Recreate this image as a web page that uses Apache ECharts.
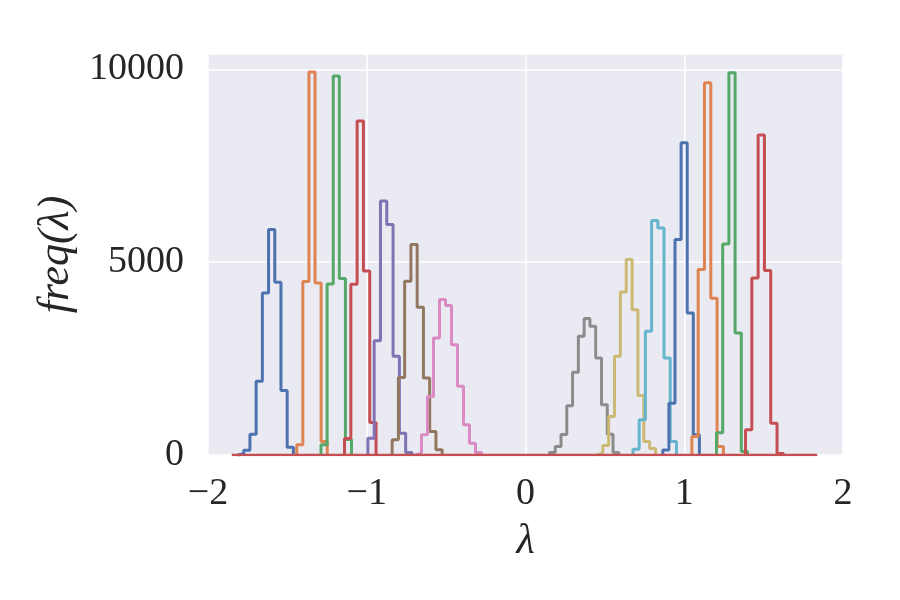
<!DOCTYPE html>
<html>
<head>
<meta charset="utf-8">
<script src="https://cdn.jsdelivr.net/npm/echarts@6/dist/echarts.min.js"></script>
<style>
  html, body { margin: 0; background: #fff; }
  #chart { width: 900px; height: 600px; }
</style>
</head>
<body>
<div id="chart"></div>
<script>
// seaborn "deep" palette, cycled
const palette = ['#4C72B0', '#DD8452', '#55A868', '#C44E52', '#8172B3',
                 '#937860', '#DA8BC3', '#8C8C8C', '#CCB974', '#64B5CD'];

// left edge of first bin and bin width (lambda units), one per histogram
const binStart = [-1.814, -1.441, -1.288, -1.140, -0.993, -0.840, -0.693,
                  0.151, 0.450, 0.677, 0.865, 1.048, 1.203, 1.386];
const binWidth = [0.0391, 0.0384, 0.0384, 0.0397, 0.0397, 0.0394, 0.0378,
                  0.0364, 0.0369, 0.0391, 0.0384, 0.0397, 0.0391, 0.0397];

// bin counts
const h1  = [30, 120, 540, 1910, 4200, 5850, 4480, 1675, 200];
const h2  = [265, 4500, 9935, 4460, 350];
const h3  = [265, 4435, 9830, 4575, 400];
const h4  = [430, 4430, 8660, 4770, 845];
const h5  = [435, 2965, 6585, 5980, 2560, 565, 65];
const h6  = [395, 2010, 4505, 5460, 3830, 1995, 610, 135];
const h7  = [50, 525, 1520, 3035, 4030, 3880, 2860, 1780, 785, 305, 65];
const h8  = [65, 220, 530, 1280, 2145, 3080, 3540, 3340, 2515, 1305, 540, 65];
const h9  = [50, 245, 1000, 2560, 4230, 5070, 3770, 1545, 350, 170];
const h10 = [150, 915, 3210, 6085, 5890, 2515, 350];
const h11 = [130, 1345, 5590, 8100, 3685, 525];
const h12 = [480, 4810, 9655, 4065, 220];
const h13 = [575, 5475, 9915, 3165, 90];
const h14 = [655, 4590, 8300, 4785, 825, 40];
const hists = [h1, h2, h3, h4, h5, h6, h7, h8, h9, h10, h11, h12, h13, h14];

// zero line of the last histogram spans the full range
const baseRange = [-1.850, 1.8375];

const xTicks = [-2, -1, 0, 1, 2];
const yTicks = [0, 5000, 10000];

const chart = echarts.init(document.getElementById('chart'));
const font = '"Liberation Serif", "DejaVu Serif", serif';

// step outline: (e0,0) -> up to c0 -> across ... -> down at last edge
function outline(start, w, counts) {
  const pts = [[start, 0]];
  counts.forEach((c, i) => pts.push([start + w * (i + 1), c]));
  pts.push([start + w * counts.length, 0]);
  return pts;
}

const series = hists.map((counts, i) => ({
  type: 'line',
  step: 'start',
  showSymbol: false,
  clip: false,
  data: outline(binStart[i], binWidth[i], counts),
  lineStyle: { color: palette[i % palette.length], width: 3 },
  z: 2 + i
}));
series.push({
  type: 'line',
  showSymbol: false,
  data: [[baseRange[0], 0], [baseRange[1], 0]],
  lineStyle: { color: palette[3], width: 2.5 },
  z: 30
});

const option = {
  animation: false,
  grid: {
    left: 208, right: 57, top: 54, bottom: 145,
    show: true, backgroundColor: '#EAEAF2', borderWidth: 0
  },
  xAxis: {
    type: 'value',
    min: xTicks[0], max: xTicks[xTicks.length - 1], interval: 1,
    name: 'λ', nameLocation: 'middle', nameGap: 66,
    nameTextStyle: { fontFamily: font, fontSize: 42, fontStyle: 'italic', color: '#262626' },
    axisLine: { show: false }, axisTick: { show: false },
    axisLabel: {
      fontFamily: font, fontSize: 38, color: '#262626', margin: 20,
      formatter: v => String(v).replace('-', '\u2212')
    },
    splitLine: { lineStyle: { color: '#ffffff', width: 1.5 } }
  },
  yAxis: {
    type: 'value',
    min: 0, max: 10400, interval: 5000,
    name: 'freq(λ)', nameLocation: 'middle', nameGap: 124, nameRotate: 90,
    nameTextStyle: { fontFamily: font, fontSize: 44, fontStyle: 'italic', color: '#262626' },
    axisLine: { show: false }, axisTick: { show: false },
    axisLabel: {
      fontFamily: font, fontSize: 38, color: '#262626', margin: 24,
      formatter: v => (yTicks.indexOf(v) >= 0 ? String(v) : '')
    },
    splitLine: { lineStyle: { color: '#ffffff', width: 1.5 } }
  },
  series: series
};

chart.setOption(option);
</script>
</body>
</html>
